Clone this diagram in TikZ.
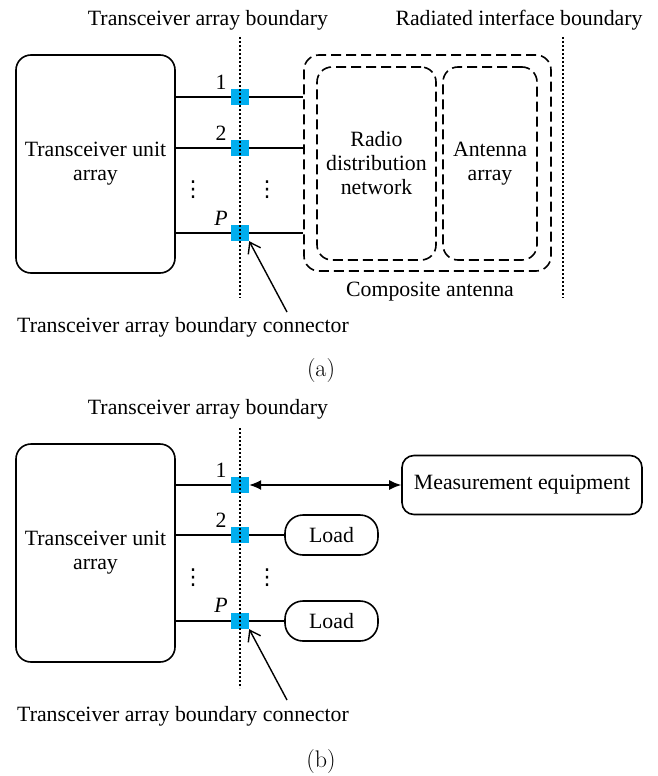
\documentclass[tikz,border=0pt]{standalone}
\usepackage{fontspec}
\newfontfamily\tnr{Liberation Serif}
\newfontfamily\dvs{DejaVu Sans}
\usetikzlibrary{arrows.meta}
\definecolor{portblue}{RGB}{0,174,239}
\tikzset{
  txt/.style={font=\tnr\fontsize{21.8}{24}\selectfont, inner sep=0pt, align=center},
  subcap/.style={font=\fontsize{24}{26}\selectfont, inner sep=0pt},
  vd/.style={font=\dvs\fontsize{22}{24}\selectfont, inner sep=0pt},
  tbox/.style={draw, line width=1.6pt, rounded corners=15pt, txt},
  dbox/.style={draw, line width=1.6pt, rounded corners=15pt, dash pattern=on 10pt off 5pt, txt},
  port/.style={fill=portblue, draw=none, minimum width=18pt, minimum height=16pt, inner sep=0pt},
  wire/.style={line width=1.4pt},
  bound/.style={line width=1.4pt, dash pattern=on 2pt off 2pt},
  ptr/.style={line width=1.4pt, -{Straight Barb[length=10pt,width=14pt,line width=1.4pt]}},
  lbox/.style={draw, line width=1.6pt, rounded corners=18pt, txt}
}
\begin{document}
\begin{tikzpicture}[x=1pt,y=-1pt]
\useasboundingbox (0,0) rectangle (658,776);
% ---------- (a) ----------
\node[txt] (ta) at (208,20) {Transceiver array boundary};
\node[txt] (ra) at (519,20) {Radiated interface boundary};
\node[tbox, minimum width=159pt, minimum height=218pt] (tua) at (95.5,164) {Transceiver unit\\array};
\node[dbox, minimum width=247pt, minimum height=216pt] (ca) at (427.5,163) {};
\node[dbox, minimum width=119pt, minimum height=193pt] (rdn) at (376.5,163.5) {Radio\\distribution\\network};
\node[dbox, minimum width=94pt, minimum height=193pt] (aa) at (490,163.5) {Antenna\\array};
\node[txt] (cal) at (430,292) {Composite antenna};
\node[port] (s1a) at (240,97) {};
\node[port] (s2a) at (240,148) {};
\node[port] (sPa) at (240,233) {};
\draw[wire] (tua.east |- s1a) -- (s1a) -- (ca.west |- s1a);
\draw[wire] (tua.east |- s2a) -- (s2a) -- (ca.west |- s2a);
\draw[wire] (tua.east |- sPa) -- (sPa) -- (ca.west |- sPa);
\node[txt] (l1a) at (221,82) {1};
\node[txt] (l2a) at (221,133) {2};
\node[txt] (lPa) at (221,218) {\itshape P};
\node[vd] (d1a) at (193,190) {⋮};
\node[vd] (d2a) at (267,190) {⋮};
\coordinate (bat) at (240,37);
\coordinate (bab) at (240,298);
\draw[bound] (bat) -- (bab);
\coordinate (rat) at (563,37);
\coordinate (rab) at (563,298);
\draw[bound] (rat) -- (rab);
\node[txt] (cna) at (183,327) {Transceiver array boundary connector};
\coordinate (pa) at (287,312);
\draw[ptr] (pa) -- (sPa.south east);
\node[subcap] (capa) at (321,371) {(a)};
% ---------- (b) ----------
\node[txt] (tb) at (208,409) {Transceiver array boundary};
\node[tbox, minimum width=159pt, minimum height=218pt] (tub) at (95.5,553) {Transceiver unit\\array};
\node[port] (s1b) at (240,485) {};
\node[port] (s2b) at (240,535) {};
\node[port] (sPb) at (240,621) {};
\node[draw, line width=1.6pt, rounded corners=12pt, txt, minimum width=240pt, minimum height=59pt] (me) at (522,485) {Measurement equipment};
\node[lbox, minimum width=93pt, minimum height=40pt] (ld1) at (331.5,535) {Load};
\node[lbox, minimum width=93pt, minimum height=40pt] (ld2) at (331.5,621) {Load};
\draw[wire] (tub.east |- s1b) -- (s1b);
\draw[wire, {Latex[length=12pt,width=10pt]}-{Latex[length=12pt,width=10pt]}] (s1b.east) -- (me.west);
\draw[wire] (tub.east |- s2b) -- (s2b) -- (ld1.west);
\draw[wire] (tub.east |- sPb) -- (sPb) -- (ld2.west);
\node[txt] (l1b) at (221,470) {1};
\node[txt] (l2b) at (221,520) {2};
\node[txt] (lPb) at (221,605) {\itshape P};
\node[vd] (d1b) at (193,578) {⋮};
\node[vd] (d2b) at (267,578) {⋮};
\coordinate (bbt) at (240,428);
\coordinate (bbb) at (240,688);
\draw[bound] (bbt) -- (bbb);
\node[txt] (cnb) at (183,716) {Transceiver array boundary connector};
\coordinate (pb) at (287,700);
\draw[ptr] (pb) -- (sPb.south east);
\node[subcap] (capb) at (321,762) {(b)};
\end{tikzpicture}
\end{document}
